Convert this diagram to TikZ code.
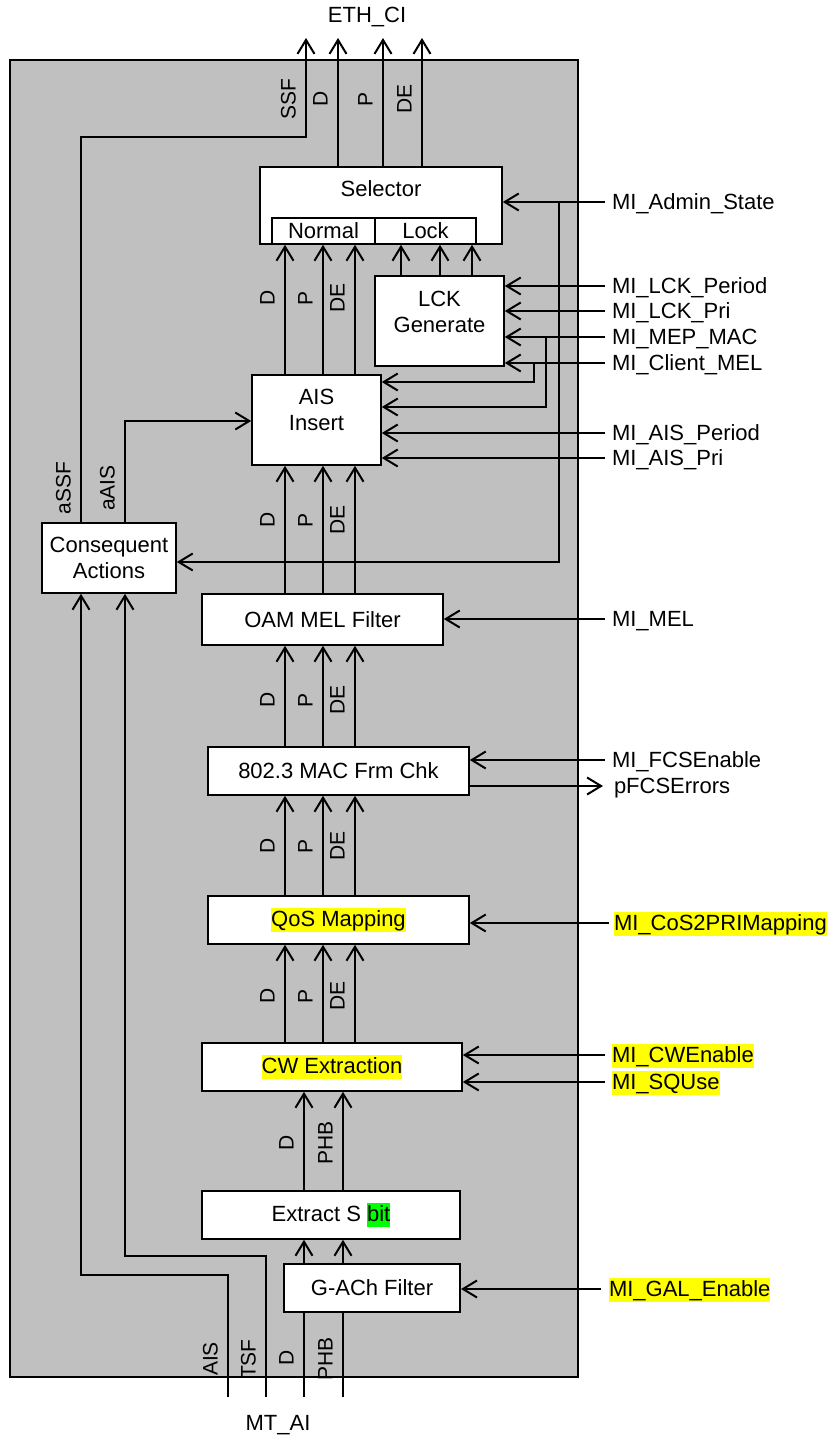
\documentclass[tikz,border=0pt]{standalone}
\usepackage{fontspec}
\setmainfont{Liberation Sans}
\usetikzlibrary{arrows.meta}
\definecolor{bggray}{HTML}{C0C0C0}
\definecolor{hiyel}{HTML}{FFFF00}
\definecolor{higrn}{HTML}{00FF00}
\newcommand\hlY[1]{{\setlength{\fboxsep}{0pt}\colorbox{hiyel}{\rule[-5.5pt]{0pt}{24.5pt}#1}}}
\newcommand\hlG[1]{{\setlength{\fboxsep}{0pt}\colorbox{higrn}{\rule[-5.5pt]{0pt}{24.5pt}#1}}}
\begin{document}
\begin{tikzpicture}[x=1pt,y=-1pt,line width=2pt,
  arr/.style={-{Straight Barb[length=14pt,width=17pt]}},
  blk/.style={draw,fill=white,line width=1.6pt,inner sep=0pt,font=\fontsize{22}{26}\selectfont,align=center},
  txt/.style={inner sep=0pt,font=\fontsize{22}{26}\selectfont,align=center},
  rl/.style={anchor=west,inner sep=0pt,text height=15.8pt,text depth=0pt,font=\fontsize{22}{26}\selectfont},
  vl/.style={rotate=90,anchor=base,inner sep=0pt,font=\fontsize{21}{25}\selectfont}]
\useasboundingbox (0,0) rectangle (829,1438);
\fill[white] (0,0) rectangle (829,1438);
\draw[fill=bggray,line width=1.5pt] (10,60) rectangle (578,1377);

% boxes
\node[blk,minimum width=242pt,minimum height=77pt] (sel) at (381,205.5) {};
\node[txt] (seltxt) at (381,189) {Selector};
\node[blk,line width=1.3pt,minimum width=103pt,minimum height=26pt] (normal) at (323.5,231) {Normal};
\node[blk,line width=1.3pt,minimum width=101pt,minimum height=26pt] (lock) at (425.5,231) {Lock};
\node[blk,minimum width=129pt,minimum height=90pt] (lck) at (439.5,321) {};
\node[txt] (lcktxt) at (439.5,311.5) {LCK\\Generate};
\node[blk,minimum width=129pt,minimum height=90pt] (ais) at (316.5,420) {};
\node[txt] (aistxt) at (316.5,410) {AIS\\Insert};
\node[blk,minimum width=134pt,minimum height=70pt] (cons) at (109,558) {Consequent\\Actions};
\node[blk,minimum width=241pt,minimum height=51pt] (oam) at (322.5,619.5) {OAM MEL Filter};
\node[blk,minimum width=261pt,minimum height=48pt] (mac) at (338.5,771) {802.3 MAC Frm Chk};
\node[blk,minimum width=261pt,minimum height=48pt] (qos) at (338.5,920) {\hlY{QoS Mapping}};
\node[blk,minimum width=260pt,minimum height=48pt] (cw) at (332,1067) {\hlY{CW Extraction}};
\node[blk,minimum width=258pt,minimum height=48pt] (ext) at (331,1215) {Extract S \hlG{bit}};
\node[blk,minimum width=176.5pt,minimum height=48pt] (gach) at (372,1288) {G-ACh Filter};

% outer texts
\node[txt] (ethci) at (367,17) {ETH\_CI};
\node[txt] (mtai) at (278,1425) {MT\_AI};

% right-side texts
\node[rl] (miadmin) at (611,202) {MI\_Admin\_State};
\node[rl] (lckper) at (611,286) {MI\_LCK\_Period};
\node[rl] (lckpri) at (611,311) {MI\_LCK\_Pri};
\node[rl] (mepmac) at (611,337) {MI\_MEP\_MAC};
\node[rl] (clmel) at (611,363) {MI\_Client\_MEL};
\node[rl] (aisper) at (611,433) {MI\_AIS\_Period};
\node[rl] (aispri) at (611,458) {MI\_AIS\_Pri};
\node[rl] (mimel) at (611,619) {MI\_MEL};
\node[rl] (fcsen) at (611,760) {MI\_FCSEnable};
\node[rl] (pfcs) at (613,786) {pFCSErrors};
\node[rl] (cos) at (613,923) {\hlY{MI\_CoS2PRIMapping}};
\node[rl] (cwen) at (611,1055) {\hlY{MI\_CWEnable}};
\node[rl] (squse) at (611,1082) {\hlY{MI\_SQUse}};
\node[rl] (gal) at (608,1289) {\hlY{MI\_GAL\_Enable}};

% coordinates
\coordinate (oSSF) at (306,38);
\coordinate (oD) at (338,38);
\coordinate (oP) at (383,38);
\coordinate (oDE) at (422,38);
\coordinate (cSSF) at (81,137);
\coordinate (cAIS) at (125,421);
\coordinate (xD) at (285,0);
\coordinate (xP) at (323,0);
\coordinate (xDE) at (355,0);
\coordinate (xL1) at (401,0);
\coordinate (xL2) at (440,0);
\coordinate (xL3) at (472,0);
\coordinate (bAIS) at (228,1397);
\coordinate (kAIS) at (228,1275);
\coordinate (bTSF) at (266,1397);
\coordinate (kTSF) at (266,1256);
\coordinate (bD) at (304,1397);
\coordinate (bPHB) at (343,1397);
\coordinate (brA) at (559,202);
\coordinate (brM) at (546,337);
\coordinate (brC) at (534,363);
\coordinate (yCons) at (0,562);
\coordinate (yAis1) at (0,382);
\coordinate (yAis2) at (0,407);

% connectors
\draw[arr] (sel.north -| oD) -- (oD);
\draw[arr] (sel.north -| oP) -- (oP);
\draw[arr] (sel.north -| oDE) -- (oDE);
\draw[arr] (cons.north -| cSSF) -- (cSSF) -| (oSSF);
\draw[arr] (cons.north -| cAIS) -- (cAIS) -- (ais.west |- cAIS);
\foreach \c in {xD,xP,xDE} {
  \draw[arr] (ais.north -| \c) -- (sel.south -| \c);
  \draw[arr] (oam.north -| \c) -- (ais.south -| \c);
  \draw[arr] (mac.north -| \c) -- (oam.south -| \c);
  \draw[arr] (qos.north -| \c) -- (mac.south -| \c);
  \draw[arr] (cw.north -| \c) -- (qos.south -| \c);
}
\foreach \c in {xL1,xL2,xL3} \draw[arr] (lck.north -| \c) -- (sel.south -| \c);
\foreach \c in {bD,bPHB} {
  \draw (\c) -- (gach.south -| \c);
  \draw[arr] (gach.north -| \c) -- (ext.south -| \c);
  \draw[arr] (ext.north -| \c) -- (cw.south -| \c);
}
\draw[arr] (bAIS) -- (kAIS) -| (cons.south -| cSSF);
\draw[arr] (bTSF) -- (kTSF) -| (cons.south -| cAIS);
\foreach \n/\b in {miadmin/sel,lckper/lck,lckpri/lck,mepmac/lck,clmel/lck,aisper/ais,aispri/ais,mimel/oam,fcsen/mac,cwen/cw,squse/cw}
  \draw[arr] ([xshift=-6pt]\n.west) -- (\b.east |- \n.west);
\draw[arr] ([xshift=-4pt]cos.west) -- (qos.east |- cos.west);
\draw[arr] ([xshift=-7pt]gal.west) -- (gach.east |- gal.west);
\draw[arr] (brA) |- (cons.east |- yCons);
\draw[arr] (brM) |- (ais.east |- yAis2);
\draw[arr] (brC) |- (ais.east |- yAis1);
\draw[arr] (mac.east |- pfcs.west) -- ([xshift=-10pt]pfcs.west);

% vertical labels
\node[vl] (t1) at (295.5,99) {SSF};
\node[vl] (t2) at (327.5,99) {D};
\node[vl] (t3) at (372.5,99) {P};
\node[vl] (t4) at (411.5,99) {DE};
\node[vl] (s1) at (274.5,298) {D};
\node[vl] (s2) at (312.5,298) {P};
\node[vl] (s3) at (344.5,298) {DE};
\node[vl] (c1) at (70.5,488) {aSSF};
\node[vl] (c2) at (114.5,488) {aAIS};
\node[vl] (a1) at (274.5,520) {D};
\node[vl] (a2) at (312.5,520) {P};
\node[vl] (a3) at (344.5,520) {DE};
\node[vl] (m1) at (274.5,700) {D};
\node[vl] (m2) at (312.5,700) {P};
\node[vl] (m3) at (344.5,700) {DE};
\node[vl] (q1) at (274.5,846) {D};
\node[vl] (q2) at (312.5,846) {P};
\node[vl] (q3) at (344.5,846) {DE};
\node[vl] (w1) at (274.5,996) {D};
\node[vl] (w2) at (312.5,996) {P};
\node[vl] (w3) at (344.5,996) {DE};
\node[vl] (e1) at (293.5,1143) {D};
\node[vl] (e2) at (332.5,1143) {PHB};
\node[vl] (b1) at (217.5,1359) {AIS};
\node[vl] (b2) at (255.5,1359) {TSF};
\node[vl] (b3) at (293.5,1358) {D};
\node[vl] (b4) at (332.5,1359) {PHB};
\end{tikzpicture}
\end{document}
